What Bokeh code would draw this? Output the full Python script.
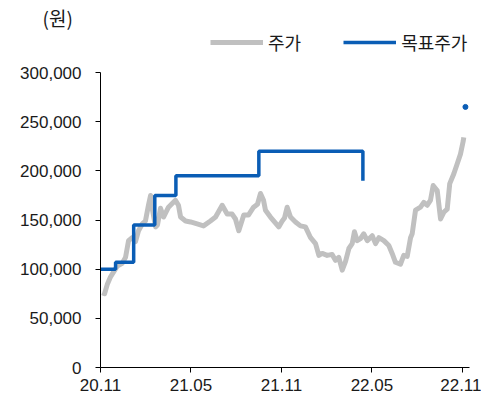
from bokeh.plotting import figure
from bokeh.models import Range1d, FixedTicker, NumeralTickFormatter, Legend, LegendItem
from bokeh.embed import file_html
from bokeh.resources import INLINE

# months since 20.11
price_month = [0.11, 0.27, 0.46, 0.66, 0.86, 1.11, 1.44, 1.66, 1.86, 2.10, 2.32, 2.52, 2.77, 2.98,
               3.18, 3.32, 3.45, 3.65, 3.78, 3.98, 4.18, 4.51, 4.77, 4.97, 5.17, 5.31, 5.64, 5.97,
               6.41, 6.83, 7.29, 7.63, 8.07, 8.40, 8.73, 8.95, 9.17, 9.50, 9.81, 10.15, 10.41,
               10.61, 10.81, 10.94, 11.27, 11.54, 11.82, 12.05, 12.20, 12.38, 12.60, 12.93, 13.26,
               13.59, 13.93, 14.26, 14.48, 14.70, 15.03, 15.36, 15.58, 15.80, 16.03, 16.25, 16.47,
               16.69, 16.84, 17.02, 17.24, 17.46, 17.69, 18.02, 18.24, 18.46, 18.79, 19.12, 19.34,
               19.56, 19.89, 20.11, 20.34, 20.56, 20.67, 20.89, 21.22, 21.44, 21.66, 21.88, 22.06,
               22.33, 22.55, 22.77, 22.99, 23.16, 23.43, 23.65, 23.87, 24.05, 24.09]
price = [76000, 75000, 85000, 92000, 97000, 103000, 106000, 112000, 129000, 132000, 128000, 139000,
         146000, 149000, 165000, 175000, 160000, 143000, 145000, 162000, 153000, 163000, 167000,
         170000, 165000, 153000, 149000, 148000, 146000, 144000, 149000, 153000, 165000, 156000,
         156000, 151000, 139000, 155000, 155000, 163000, 166000, 177000, 170000, 160000, 153000,
         148000, 143000, 149000, 152000, 163000, 153000, 148000, 144000, 143000, 132000, 126000,
         114000, 116000, 114000, 115000, 109000, 112000, 99000, 108000, 121000, 126000, 138000,
         129000, 131000, 136000, 129000, 134000, 126000, 132000, 129000, 124000, 116000, 107000,
         105000, 114000, 113000, 132000, 136000, 160000, 163000, 168000, 165000, 170000, 185000,
         180000, 151000, 158000, 161000, 187000, 197000, 207000, 217000, 230000, 234000]

target_month = [0.0, 1.0, 2.2, 3.6, 5.0, 10.5, 17.4]
target = [100000, 107000, 145000, 175000, 195000, 220000, 190000]

latest_target_month = [24.2]
latest_target = [265000]

tick_pos = [0, 6, 12, 18, 24]
tick_labels = ["20.11", "21.05", "21.11", "22.05", "22.11"]
y_ticks = [0, 50000, 100000, 150000, 200000, 250000, 300000]

series_names = ["주가", "목표주가"]
unit_text = "(원)"

GRAY = "#C0C0C0"
BLUE = "#0A5DB5"
NUM_FONT = "Liberation Sans"
KR_FONT = "Noto Sans CJK KR"
TXT = "#1a1a1a"

W, H = 481, 405
LEFT, TOP, BOTTOM = 100, 30, 38
PX_PER_MONTH = 15.08
PX_PER_WON = 295 / 300000
frame_w = W - LEFT
frame_h = H - TOP - BOTTOM

p = figure(width=W, height=H, output_backend="svg", toolbar_location=None,
           x_range=Range1d(0, frame_w / PX_PER_MONTH),
           y_range=Range1d(0, frame_h / PX_PER_WON),
           min_border_left=LEFT, min_border_right=0, min_border_top=TOP, min_border_bottom=BOTTOM)
p.outline_line_color = None
p.xgrid.visible = False
p.ygrid.visible = False

r_price = p.line(price_month, price, line_color=GRAY, line_width=5, line_join="round")
r_target = p.step(target_month, target, mode="after", line_color=BLUE, line_width=3.5)
p.scatter(latest_target_month, latest_target, marker="circle", size=5, fill_color=BLUE, line_color=BLUE)

for ax in (p.xaxis[0], p.yaxis[0]):
    ax.axis_line_color = "black"
    ax.major_tick_line_color = "black"
    ax.minor_tick_line_color = None
    ax.major_tick_in = 0
    ax.major_tick_out = 5
    ax.major_label_text_font = NUM_FONT
    ax.major_label_text_font_size = "17px"
    ax.major_label_text_color = TXT

p.xaxis[0].ticker = FixedTicker(ticks=tick_pos)
p.xaxis[0].major_label_overrides = {t: l for t, l in zip(tick_pos, tick_labels)}
p.xaxis[0].major_label_standoff = 6
p.xaxis[0].bounds = (0, 24.47)
p.yaxis[0].ticker = FixedTicker(ticks=y_ticks)
p.yaxis[0].formatter = NumeralTickFormatter(format="0,0")
p.yaxis[0].major_label_standoff = 14
p.yaxis[0].bounds = (0, 300000)

legend = Legend(items=[LegendItem(label=series_names[0], renderers=[r_price]),
                       LegendItem(label=series_names[1], renderers=[r_target])],
                location=(110, frame_h - 25), orientation="horizontal",
                glyph_width=53, glyph_height=20, label_standoff=5, spacing=42,
                padding=0, margin=0, border_line_color=None, background_fill_alpha=0,
                label_text_font=KR_FONT, label_text_font_size="18px", label_text_color=TXT)
p.add_layout(legend)

p.title.text = unit_text
p.title.align = "left"
p.title.offset = -58
p.title.standoff = 0
p.title.text_font = KR_FONT
p.title.text_font_size = "19px"
p.title.text_font_style = "normal"
p.title.text_color = TXT

open("out.html", "w").write(file_html(p, INLINE))
